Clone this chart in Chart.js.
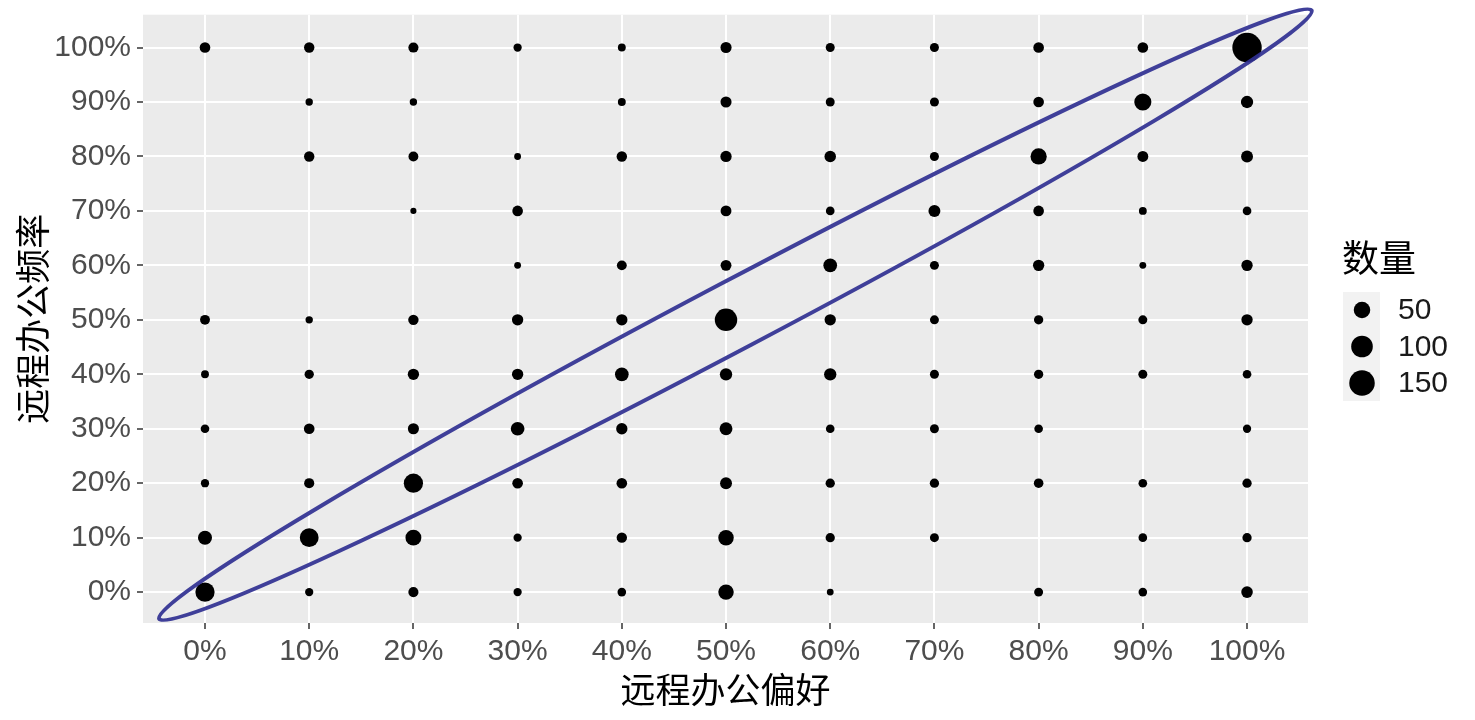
<!DOCTYPE html>
<html>
<head>
<meta charset="utf-8">
<script src="https://cdn.jsdelivr.net/npm/chart.js@4.4.1/dist/chart.umd.min.js"></script>
<style>
  body { margin: 0; background: #fff; }
  #wrap { width: 1475px; height: 720px; }
</style>
</head>
<body>
<div id="wrap"><canvas id="chart" width="1475" height="720"></canvas></div>
<script>
// grid levels (percent) for both axes
var levels = [0, 10, 20, 30, 40, 50, 60, 70, 80, 90, 100];
var tickLabels = ['0%', '10%', '20%', '30%', '40%', '50%', '60%', '70%', '80%', '90%', '100%'];

// counts per row of 远程办公频率 (y), one value per 远程办公偏好 level (x); 0 = no point
var count0   = [75, 6, 12, 6, 7, 42, 3, 0, 8, 7, 18];
var count10  = [32, 70, 45, 6, 13, 42, 9, 8, 0, 7, 9];
var count20  = [6, 12, 75, 14, 14, 20, 9, 9, 10, 7, 9];
var count30  = [7, 14, 16, 30, 17, 25, 7, 8, 7, 0, 6];
var count40  = [5, 9, 17, 17, 30, 22, 22, 8, 9, 8, 7];
var count50  = [11, 4, 13, 17, 17, 110, 17, 8, 9, 8, 17];
var count60  = [0, 0, 0, 3, 11, 15, 30, 8, 17, 3, 17];
var count70  = [0, 0, 2, 14, 0, 15, 7, 20, 14, 5, 7];
var count80  = [0, 13, 11, 3, 13, 17, 18, 8, 48, 15, 20];
var count90  = [0, 4, 4, 0, 5, 16, 8, 8, 14, 55, 22];
var count100 = [14, 13, 12, 6, 5, 16, 8, 8, 14, 14, 210];
var rows = [count0, count10, count20, count30, count40, count50, count60, count70, count80, count90, count100];

// size legend
var legendTitle = '数量';
var legendBreaks = [50, 100, 150];

// ellipse annotation ends, in data units
var ellipseStart = [-4.4, -4.9];
var ellipseEnd = [106.2, 106.8];

var tickFont = 'Liberation Sans, Arial, sans-serif';
var cjkFont = '"Noto Sans CJK SC", "Noto Sans", sans-serif';

// point diameter from count (area-like scale)
function dotSize(n) {
    return 4.4 + 1.73 * Math.sqrt(Math.max(n - 1, 0));
}

var points = [];
for (var r = 0; r < rows.length; r++) {
    for (var c = 0; c < levels.length; c++) {
        if (rows[r][c] > 0) {
            points.push({x: levels[c], y: levels[r], n: rows[r][c]});
        }
    }
}

var panelBg = {
    id: 'panelBg',
    beforeDraw: function (chart) {
        var a = chart.chartArea, ctx = chart.ctx;
        ctx.save();
        ctx.fillStyle = '#EBEBEB';
        ctx.fillRect(a.left, a.top, a.right - a.left, a.bottom - a.top);
        ctx.restore();
    }
};

var overlay = {
    id: 'overlay',
    afterDraw: function (chart) {
        var ctx = chart.ctx, xs = chart.scales.x, ys = chart.scales.y;

        // ellipse around the diagonal
        var x1 = xs.getPixelForValue(ellipseStart[0]), y1 = ys.getPixelForValue(ellipseStart[1]);
        var x2 = xs.getPixelForValue(ellipseEnd[0]), y2 = ys.getPixelForValue(ellipseEnd[1]);
        var cx = (x1 + x2) / 2, cy = (y1 + y2) / 2;
        var a = Math.sqrt((x2 - x1) * (x2 - x1) + (y2 - y1) * (y2 - y1)) / 2;
        var ang = Math.atan2(y2 - y1, x2 - x1);
        ctx.save();
        ctx.beginPath();
        ctx.ellipse(cx, cy, a, 34, ang, 0, Math.PI * 2);
        ctx.strokeStyle = 'rgba(48, 48, 145, 0.92)';
        ctx.lineWidth = 4;
        ctx.stroke();
        ctx.restore();

        // size legend
        ctx.save();
        ctx.fillStyle = '#000';
        ctx.font = '37px ' + cjkFont;
        ctx.textBaseline = 'middle';
        ctx.textAlign = 'left';
        ctx.fillText(legendTitle, 1342, 258);
        ctx.fillStyle = '#F2F2F2';
        ctx.fillRect(1343, 292, 37, 109);
        for (var i = 0; i < legendBreaks.length; i++) {
            var ky = 310 + i * 36.5;
            ctx.beginPath();
            ctx.arc(1362, ky, dotSize(legendBreaks[i]) / 2, 0, Math.PI * 2);
            ctx.fillStyle = '#000';
            ctx.fill();
            ctx.fillStyle = '#1a1a1a';
            ctx.font = '30px ' + tickFont;
            ctx.fillText(String(legendBreaks[i]), 1398, ky + 1);
        }
        ctx.restore();
    }
};

function setLevels(scale) {
    scale.ticks = levels.map(function (v) { return {value: v}; });
}

new Chart(document.getElementById('chart').getContext('2d'), {
    type: 'scatter',
    data: {
        datasets: [{
            data: points,
            backgroundColor: '#000',
            borderWidth: 0,
            pointRadius: function (ctx) { return ctx.raw ? dotSize(ctx.raw.n) / 2 : 0; }
        }]
    },
    options: {
        responsive: false,
        animation: false,
        events: [],
        layout: {padding: {left: 0, right: 167, top: 10, bottom: 0}},
        plugins: {legend: {display: false}, tooltip: {enabled: false}},
        scales: {
            x: {
                type: 'linear',
                min: -5.95,
                max: 105.85,
                afterBuildTicks: setLevels,
                afterFit: function (s) { s.height = 97; s.paddingLeft = 0; s.paddingRight = 0; },
                grid: {color: '#FFFFFF', lineWidth: 2, tickColor: '#333333', tickLength: 6, tickWidth: 1.5},
                border: {display: false},
                ticks: {
                    padding: 5,
                    color: '#4D4D4D',
                    font: {family: tickFont, size: 30},
                    maxRotation: 0,
                    callback: function (v) { return tickLabels[levels.indexOf(v)]; }
                },
                title: {
                    display: true,
                    text: '远程办公偏好',
                    color: '#000',
                    font: {family: cjkFont, size: 35, lineHeight: 1.2},
                    padding: {top: 0, bottom: 9}
                }
            },
            y: {
                type: 'linear',
                min: -5.67,
                max: 106.03,
                afterBuildTicks: setLevels,
                afterFit: function (s) { s.width = 143; s.paddingTop = 0; s.paddingBottom = 0; },
                grid: {color: '#FFFFFF', lineWidth: 2, tickColor: '#333333', tickLength: 6, tickWidth: 1.5},
                border: {display: false},
                ticks: {
                    padding: 6,
                    color: '#4D4D4D',
                    font: {family: tickFont, size: 30},
                    callback: function (v) { return tickLabels[levels.indexOf(v)]; }
                },
                title: {
                    display: true,
                    text: '远程办公频率',
                    color: '#000',
                    font: {family: cjkFont, size: 35, lineHeight: 1.2},
                    padding: {top: 12, bottom: 0}
                }
            }
        }
    },
    plugins: [panelBg, overlay]
});
</script>
</body>
</html>
